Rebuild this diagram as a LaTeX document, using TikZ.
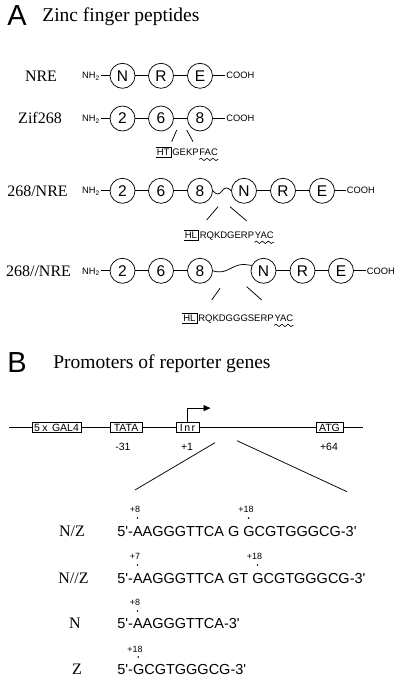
\documentclass[tikz,border=0pt]{standalone}
\usepackage{fontspec}
\setmainfont{Liberation Serif}
\setsansfont{Liberation Sans}
\usetikzlibrary{decorations.pathmorphing,arrows.meta}
\begin{document}
\begin{tikzpicture}[x=1pt,y=-1pt,line width=0.75pt,
  fing/.style={draw,circle,minimum size=25pt,inner sep=0pt,font=\sffamily\fontsize{15.5}{15.5}\selectfont},
  rowlab/.style={anchor=base,inner sep=0pt,font=\fontsize{16}{16}\selectfont},
  term/.style={inner xsep=1pt,inner ysep=0pt,font=\sffamily\fontsize{9.3}{9.3}\selectfont},
  pep/.style={anchor=base west,inner sep=0pt,font=\sffamily\fontsize{9.5}{9.5}\selectfont},
  hbox/.style={anchor=base west,inner xsep=1pt,inner ysep=1.2pt,font=\sffamily\fontsize{9.5}{9.5}\selectfont},
  hline/.style={line width=0.6pt},
  wavy/.style={decorate,decoration={snake,segment length=6pt,amplitude=1.2pt},line width=0.6pt},
  gbox/.style={draw,fill=white,inner xsep=1pt,inner ysep=0pt,minimum height=10pt,font=\sffamily\fontsize{10.5}{10.5}\selectfont},
  poslab/.style={inner sep=0pt,font=\sffamily\fontsize{10.5}{10.5}\selectfont},
  seq/.style={anchor=base west,inner sep=0pt,font=\sffamily\fontsize{14.5}{14.5}\selectfont},
  mk/.style={inner sep=0pt,font=\sffamily\fontsize{9}{9}\selectfont},
  dotm/.style={circle,fill,inner sep=0pt,minimum size=1.8pt},
  big/.style={anchor=base west,inner sep=0pt,font=\sffamily\fontsize{29}{29}\selectfont},
  ttl/.style={anchor=base west,inner sep=0pt,font=\fontsize{19.5}{19.5}\selectfont}]
\useasboundingbox (0,0) rectangle (400,684);

% ---------- Panel A ----------
\node[big] (A) at (7,26) {A};
\node[ttl] (tA) at (42,22) {Zinc finger peptides};

% Row 1: NRE
\node[rowlab] (l1) at (41,81.1) {NRE};
\node[term,anchor=base east] (nh1) at (101,79) {NH\textsubscript{2}};
\node[fing] (r1a) at (122.5,75.8) {N};
\node[fing] (r1b) at (161,75.8) {R};
\node[fing] (r1c) at (200,75.8) {E};
\node[term,anchor=base west] (c1) at (225,79) {COOH};
\draw (nh1.east |- r1a.west) -- (r1a.west);
\draw (r1a) -- (r1b) -- (r1c);
\draw (r1c.east) -- (c1.west |- r1c.east);

% Row 2: Zif268
\node[rowlab] (l2) at (40,123.8) {Zif268};
\node[term,anchor=base east] (nh2) at (101,121.7) {NH\textsubscript{2}};
\node[fing] (r2a) at (122.5,118.5) {2};
\node[fing] (r2b) at (161,118.5) {6};
\node[fing] (r2c) at (200,118.5) {8};
\node[term,anchor=base west] (c2) at (225,121.7) {COOH};
\draw (nh2.east |- r2a.west) -- (r2a.west);
\draw (r2a) -- (r2b) -- (r2c);
\draw (r2c.east) -- (c2.west |- r2c.east);
\coordinate (z1a) at (176.7,130); \coordinate (z1b) at (171.7,141.7);
\coordinate (z2a) at (186.7,130); \coordinate (z2b) at (193,141.7);
\draw (z1a) -- (z1b);
\draw (z2a) -- (z2b);
\node[hbox] (ht) at (155.5,155.4) {HT};
\draw[hline] (ht.north west) -- (ht.north east) -- (ht.south east) -- (ht.south west);
\node[pep] (zp1) at ([xshift=1pt]ht.base east) {GEKP};
\node[pep] (zp2) at (zp1.base east) {FAC};
\draw[wavy] ([yshift=-4pt]zp2.base west) -- ([yshift=-4pt]zp2.base east);

% Row 3: 268/NRE
\node[rowlab] (l3) at (37.5,196.1) {268/NRE};
\node[term,anchor=base east] (nh3) at (101,194) {NH\textsubscript{2}};
\node[fing] (r3a) at (122.5,190.8) {2};
\node[fing] (r3b) at (161,190.8) {6};
\node[fing] (r3c) at (200,190.8) {8};
\node[fing] (r3d) at (244,190.8) {N};
\node[fing] (r3e) at (283,190.8) {R};
\node[fing] (r3f) at (322,190.8) {E};
\node[term,anchor=base west] (c3) at (345.5,194) {COOH};
\draw (nh3.east |- r3a.west) -- (r3a.west);
\draw (r3a) -- (r3b) -- (r3c);
\draw (r3c.east) .. controls (216,195) and (219.5,195) .. (222,191)
      .. controls (224.5,187) and (228,186.8) .. (r3d.west);
\draw (r3d) -- (r3e) -- (r3f);
\draw (r3f.east) -- (c3.west |- r3f.east);
\coordinate (y1a) at (218,206.7); \coordinate (y1b) at (206.7,220);
\coordinate (y2a) at (230,206.7); \coordinate (y2b) at (246.7,221);
\draw (y1a) -- (y1b);
\draw (y2a) -- (y2b);
\node[hbox] (hl1) at (183.5,238.3) {HL};
\draw[hline] (hl1.north west) -- (hl1.north east) -- (hl1.south east) -- (hl1.south west);
\node[pep] (p31) at ([xshift=1pt]hl1.base east) {RQKDGERP};
\node[pep] (p32) at (p31.base east) {YAC};
\draw[wavy] ([yshift=-4pt]p32.base west) -- ([yshift=-4pt]p32.base east);

% Row 4: 268//NRE
\node[rowlab] (l4) at (38.5,276.1) {268//NRE};
\node[term,anchor=base east] (nh4) at (101,274) {NH\textsubscript{2}};
\node[fing] (r4a) at (122.5,270.8) {2};
\node[fing] (r4b) at (161,270.8) {6};
\node[fing] (r4c) at (200,270.8) {8};
\node[fing] (r4d) at (263.5,270.8) {N};
\node[fing] (r4e) at (302.5,270.8) {R};
\node[fing] (r4f) at (341,270.8) {E};
\node[term,anchor=base west] (c4) at (365.5,274) {COOH};
\draw (nh4.east |- r4a.west) -- (r4a.west);
\draw (r4a) -- (r4b) -- (r4c);
\draw (r4c.east) .. controls (226,275.5) and (232,264.5) .. (243,264.5)
      .. controls (247,264.5) and (250,265.5) .. (r4d.155);
\draw (r4d) -- (r4e) -- (r4f);
\draw (r4f.east) -- (c4.west |- r4f.east);
\coordinate (w1a) at (220,288.3); \coordinate (w1b) at (211.7,300);
\coordinate (w2a) at (246.7,286.7); \coordinate (w2b) at (261.7,300);
\draw (w1a) -- (w1b);
\draw (w2a) -- (w2b);
\node[hbox] (hl2) at (182,321.4) {HL};
\draw[hline] (hl2.north west) -- (hl2.north east) -- (hl2.south east) -- (hl2.south west);
\node[pep] (p41) at ([xshift=1pt]hl2.base east) {RQKDGGGSERP};
\node[pep] (p42) at (p41.base east) {YAC};
\draw[wavy] ([yshift=-4pt]p42.base west) -- ([yshift=-4pt]p42.base east);

% ---------- Panel B ----------
\node[big] (B) at (7,372.7) {B};
\node[ttl] (tB) at (53,368.5) {Promoters of reporter genes};

\coordinate (gl) at (9,427.5);
\coordinate (gr) at (363,427.5);
\node[gbox,minimum width=49pt] (gal) at (56.5,427.5) {5\hspace{2.5pt}x\hspace{1.5pt} GAL4};
\node[gbox,minimum width=32pt] (tata) at (126,427.5) {TATA};
\node[gbox,minimum width=23pt] (inr) at (187.5,427.5) {I\hspace{1.5pt}n\hspace{1.5pt}r};
\node[gbox,minimum width=27pt] (atg) at (329.5,427.5) {ATG};
\draw (gl) -- (gal) -- (tata) -- (inr) -- (atg) -- (gr);
\draw[-{Triangle[length=7pt,width=6pt]}] (inr.north) -- ++(0,-14) -- ++(23,0);
\node[poslab] (q1) at (123,446.7) {-31};
\node[poslab] (q2) at (187,446.7) {+1};
\node[poslab] (q3) at (329,446.7) {+64};
\coordinate (d1a) at (215,442.7); \coordinate (d1b) at (135,490);
\coordinate (d2a) at (237,440.7); \coordinate (d2b) at (347,491.7);
\draw (d1a) -- (d1b);
\draw (d2a) -- (d2b);

% Sequences
\node[rowlab] (sl1) at (72,536.5) {N/Z};
\node[seq] (s1) at (117,536.5) {5\textquotesingle-AAGGGTTCA G GCGTGGGCG-3\textquotesingle};
\node[dotm] (s1d1) at (137.5,518) {};
\node[mk] (s1m1) at (135,509) {+8};
\node[dotm] (s1d2) at (248.6,518) {};
\node[mk] (s1m2) at (246,509) {+18};

\node[rowlab] (sl2) at (73.5,583) {N//Z};
\node[seq] (s2) at (117,583) {5\textquotesingle-AAGGGTTCA GT GCGTGGGCG-3\textquotesingle};
\node[dotm] (s2d1) at (137.5,565) {};
\node[mk] (s2m1) at (135,556.5) {+7};
\node[dotm] (s2d2) at (257.5,565) {};
\node[mk] (s2m2) at (254.5,556) {+18};

\node[rowlab] (sl3) at (75,628) {N};
\node[seq] (s3) at (117,628) {5\textquotesingle-AAGGGTTCA-3\textquotesingle};
\node[dotm] (s3d1) at (137.5,611) {};
\node[mk] (s3m1) at (135,602) {+8};

\node[rowlab] (sl4) at (77,674) {Z};
\node[seq] (s4) at (117,674) {5\textquotesingle-GCGTGGGCG-3\textquotesingle};
\node[dotm] (s4d1) at (138.3,657) {};
\node[mk] (s4m1) at (135,649) {+18};
\end{tikzpicture}
\end{document}
